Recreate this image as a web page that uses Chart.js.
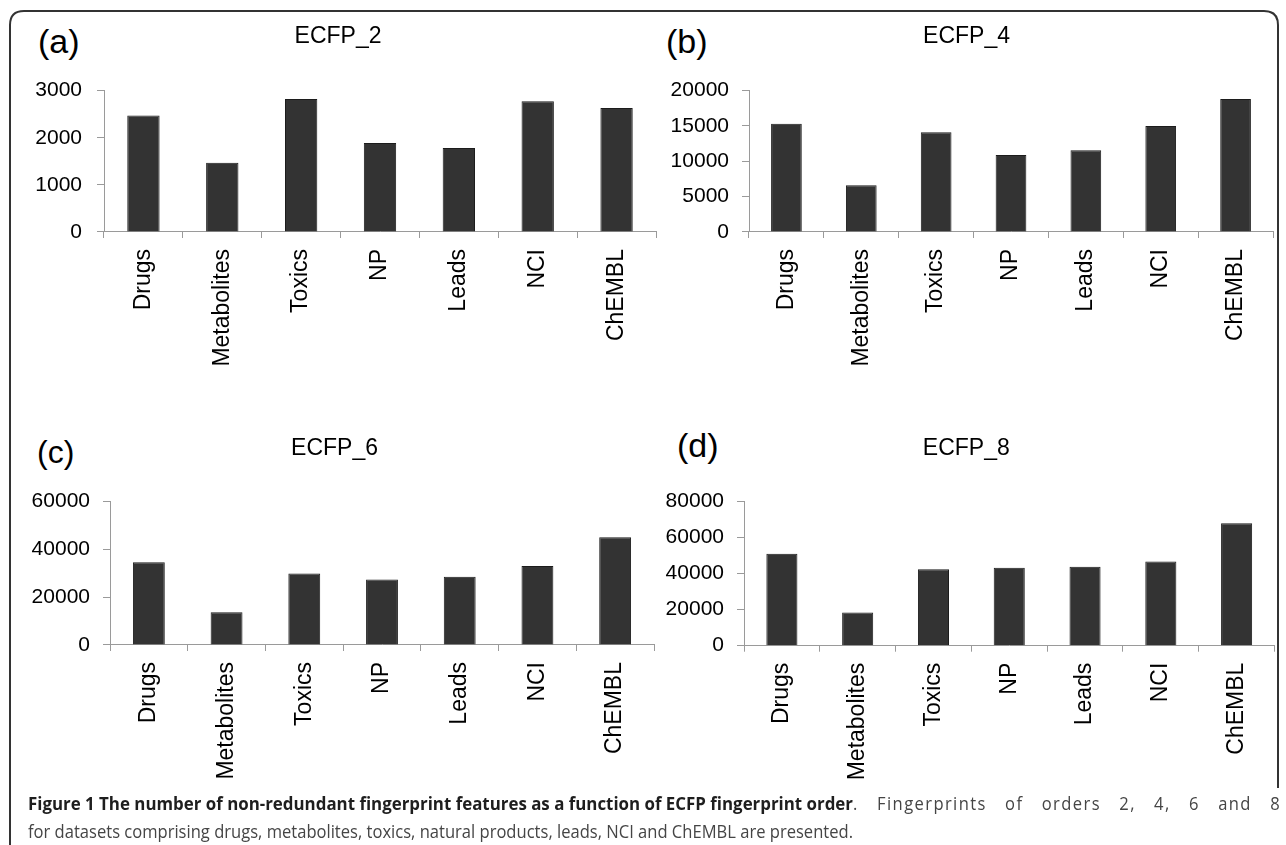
<!DOCTYPE html>
<html>
<head>
<meta charset="utf-8">
<title>ECFP fingerprint features</title>
<script src="https://cdn.jsdelivr.net/npm/chart.js@4.4.1/dist/chart.umd.min.js"></script>
<style>
  html, body { margin: 0; padding: 0; background: #fff; }
  body { width: 1286px; height: 845px; position: relative; overflow: hidden; }
  canvas { position: absolute; }
  .tag { position: absolute; font-family: "Liberation Sans", Arial, sans-serif; color: #000; line-height: 1; white-space: nowrap; }
  .cap { position: absolute; font-family: "Open Sans", sans-serif; font-size: 18px; line-height: 28px;
         white-space: nowrap; transform-origin: 0 0; }
  .cap.bold { color: #1e1e1e; font-weight: 700; }
  .cap.plain { color: #454545; font-weight: 400; }
  #frame { position: absolute; left: 0; top: 0; }
</style>
</head>
<body>
<svg id="frame" width="1286" height="845">
  <path d="M10,845 L10,25 Q10,11 24,11 L1264,11 Q1278,11 1278,25 L1278,788" fill="none" stroke="#333" stroke-width="2"/>
</svg>

<div class="tag" style="left:38px; top:24px; font-size:34px;">(a)</div>
<div class="tag" style="left:666px; top:24px; font-size:34px;">(b)</div>
<div class="tag" style="left:37px; top:436px; font-size:32px;">(c)</div>
<div class="tag" style="left:677px; top:428px; font-size:34px;">(d)</div>

<canvas id="cA" width="650" height="400" style="left:20px; top:15px;"></canvas>
<canvas id="cB" width="620" height="400" style="left:660px; top:15px;"></canvas>
<canvas id="cC" width="650" height="400" style="left:15px; top:425px;"></canvas>
<canvas id="cD" width="620" height="400" style="left:658px; top:425px;"></canvas>

<div class="cap bold" id="capHead" style="left:28px; top:789px;">Figure 1 The number of non-redundant fingerprint features as a function of ECFP fingerprint order</div>
<div class="cap plain" id="capTail" style="left:853px; top:789px;">. Fingerprints of orders 2, 4, 6 and 8</div>
<div class="cap plain" id="capLine2" style="left:28px; top:817px;">for datasets comprising drugs, metabolites, toxics, natural products, leads, NCI and ChEMBL are presented.</div>

<script>
// Datasets compared in every panel
const categories = ['Drugs', 'Metabolites', 'Toxics', 'NP', 'Leads', 'NCI', 'ChEMBL'];

// Number of non-redundant features per dataset, one array per fingerprint order
const ecfp2 = [2470, 1470, 2820, 1890, 1780, 2775, 2630];
const ecfp4 = [15300, 6620, 14100, 10900, 11550, 15000, 18800];
const ecfp6 = [34600, 13750, 29900, 27400, 28600, 33100, 45100];
const ecfp8 = [51000, 18500, 42400, 43300, 43900, 46700, 68000];

// Panel titles and value-axis ranges
const titles = ['ECFP_2', 'ECFP_4', 'ECFP_6', 'ECFP_8'];
const axisMax = [3000, 20000, 60000, 80000];
const axisStep = [1000, 5000, 20000, 20000];

const FONT = '"Liberation Sans", Arial, sans-serif';
const AXIS_GREY = '#9a9a9a';

// Plot-box geometry inside each canvas
const frames = [
  { id: 'cA', yWidth: 84, xHeight: 183,   padRight: 14,  titleTop: 8,  titleBottom: 40, yPad: 15 },
  { id: 'cB', yWidth: 89, xHeight: 183,   padRight: 7,   titleTop: 8,  titleBottom: 40, yPad: 13 },
  { id: 'cC', yWidth: 95, xHeight: 180,   padRight: 11,  titleTop: 10, titleBottom: 39, yPad: 13 },
  { id: 'cD', yWidth: 86, xHeight: 179.3, padRight: 3.5, titleTop: 10, titleBottom: 39, yPad: 13 }
];

const series = [ecfp2, ecfp4, ecfp6, ecfp8];

series.forEach((values, i) => {
  const f = frames[i];
  new Chart(document.getElementById(f.id), {
    type: 'bar',
    data: {
      labels: categories,
      datasets: [{
        data: values,
        backgroundColor: '#333333',
        borderColor: '#1c1c1c',
        borderWidth: 1,
        categoryPercentage: 1,
        barPercentage: 0.41
      }]
    },
    options: {
      responsive: false,
      animation: false,
      events: [],
      layout: { padding: { left: 0, right: f.padRight, top: 0, bottom: 0 } },
      plugins: {
        legend: { display: false },
        tooltip: { enabled: false },
        title: {
          display: true,
          text: titles[i],
          color: '#000',
          font: { family: FONT, size: 23, weight: 'normal', lineHeight: 1.2 },
          padding: { top: f.titleTop, bottom: f.titleBottom }
        }
      },
      scales: {
        x: {
          offset: true,
          grid: { display: true, offset: true, drawOnChartArea: false, drawTicks: true, tickLength: 6, color: AXIS_GREY, lineWidth: 1 },
          border: { display: true, color: AXIS_GREY, width: 1 },
          ticks: { autoSkip: false, minRotation: 90, maxRotation: 90, padding: 11, color: '#000', font: { family: FONT, size: 23 } },
          afterFit: s => { s.height = f.xHeight; }
        },
        y: {
          min: 0,
          max: axisMax[i],
          grid: { display: true, drawOnChartArea: false, drawTicks: true, tickLength: 7, color: AXIS_GREY, lineWidth: 1 },
          border: { display: true, color: AXIS_GREY, width: 1 },
          ticks: {
            stepSize: axisStep[i],
            padding: f.yPad,
            color: '#000',
            font: { family: FONT, size: 21 },
            callback: v => String(v)
          },
          afterFit: s => { s.width = f.yWidth; }
        }
      }
    }
  });
});

// Caption layout: the plain second line sets the horizontal squeeze of the face,
// the bold lead-in fills up to the period, and the rest of line one is spread to the right margin.
const head = document.getElementById('capHead');
const tail = document.getElementById('capTail');
const line2 = document.getElementById('capLine2');

const squeeze = 825 / line2.getBoundingClientRect().width;
line2.style.transform = 'scaleX(' + squeeze + ')';

const headScale = 825 / head.getBoundingClientRect().width;
head.style.transform = 'scaleX(' + headScale + ')';

tail.style.letterSpacing = (1.4 / squeeze) + 'px';
const tailNatural = tail.getBoundingClientRect().width;
const gaps = 8;
const extra = (428 / squeeze - tailNatural) / gaps;
tail.style.wordSpacing = Math.max(extra, 0) + 'px';
tail.style.transform = 'scaleX(' + squeeze + ')';
</script>
</body>
</html>
